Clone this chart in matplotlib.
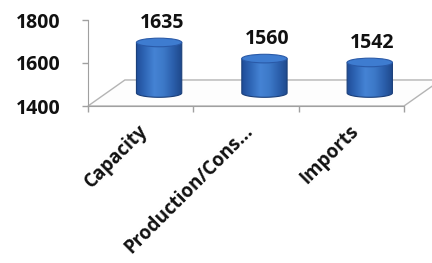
import numpy as np
import matplotlib.pyplot as plt
from matplotlib.patches import Polygon, Ellipse, PathPatch
from matplotlib.path import Path
from matplotlib.colors import LinearSegmentedColormap

categories = ['Capacity', 'Production/Cons...', 'Imports']
values = [1635, 1560, 1542]
yticks = [1400, 1600, 1800]

plt.rcParams['font.family'] = ['Open Sans', 'DejaVu Sans']

W, H = 432, 263
fig = plt.figure(figsize=(W / 100, H / 100), dpi=100)
ax = fig.add_axes([88 / W, 1 - 106 / H, (404 - 88) / W, (106 - 20) / H])
ymin, ymax = yticks[0], yticks[-1]
n = len(categories)

depth_x = 0.35   # depth offset in category units
depth_y = 121    # depth offset in value units
grid_col = '#b4b4b4'

# floor
floor = Polygon([(0, ymin), (n, ymin), (n + depth_x, ymin + depth_y), (depth_x, ymin + depth_y)],
                closed=True, facecolor='#fdfdfd', edgecolor=grid_col, lw=1.0,
                clip_on=False, zorder=1)
ax.add_patch(floor)

cmap = LinearSegmentedColormap.from_list(
    'cyl', ['#1f4c98', '#3068b8', '#4583d4', '#3d79c8', '#2c60ad', '#1e488a'])
grad = np.linspace(0, 1, 256).reshape(1, -1)

w = 0.43
eh = 40
for i, v in enumerate(values):
    cx = i + 0.5 + depth_x / 2
    base = ymin + depth_y / 2
    top = v + depth_y / 2
    t = np.linspace(np.pi, 2 * np.pi, 60)
    arc_x = cx + (w / 2) * np.cos(t)
    arc_y = base + (eh / 2) * np.sin(t)
    verts = [(cx - w / 2, top)] + list(zip(arc_x, arc_y)) + [(cx + w / 2, top), (cx - w / 2, top)]
    codes = [Path.MOVETO] + [Path.LINETO] * (len(verts) - 2) + [Path.CLOSEPOLY]
    path = Path(verts, codes)
    body = PathPatch(path, facecolor='none', edgecolor='#1a3f7a', lw=0.8, zorder=3)
    ax.add_patch(body)
    im = ax.imshow(grad, cmap=cmap, aspect='auto',
                   extent=(cx - w / 2, cx + w / 2, base - eh, top), zorder=2)
    im.set_clip_path(body)
    topel = Ellipse((cx, top), w, eh, facecolor='#3e7cd0', edgecolor='#2a5aa8', lw=0.8, zorder=4)
    ax.add_patch(topel)
    ax.annotate(str(v), (cx, top + eh / 2), xytext=(2, 11), textcoords='offset points',
                ha='center', va='center', fontsize=14, fontweight='bold', color='#111111')

ax.set_xlim(0, n)
ax.set_ylim(ymin, ymax)
ax.set_yticks(yticks)
ax.set_yticklabels([str(t) for t in yticks], fontsize=14, fontweight='bold', color='#111111')
ax.set_xticks(range(n + 1))
ax.set_xticklabels([])
ax.tick_params(axis='both', color='#a0a0a0', length=4, width=1)
ax.tick_params(axis='y', pad=16)
for s in ['top', 'right']:
    ax.spines[s].set_visible(False)
for s in ['left', 'bottom']:
    ax.spines[s].set_color('#a0a0a0')
ax.patch.set_alpha(0)

for i, c in enumerate(categories):
    ax.annotate(c, (i + 0.5, ymin), xytext=(-2, -11), textcoords='offset points',
                ha='right', va='top', rotation=45, rotation_mode='anchor',
                fontsize=13.5, fontweight='bold', color='#111111', annotation_clip=False)

fig.savefig('out.png', dpi=100)
